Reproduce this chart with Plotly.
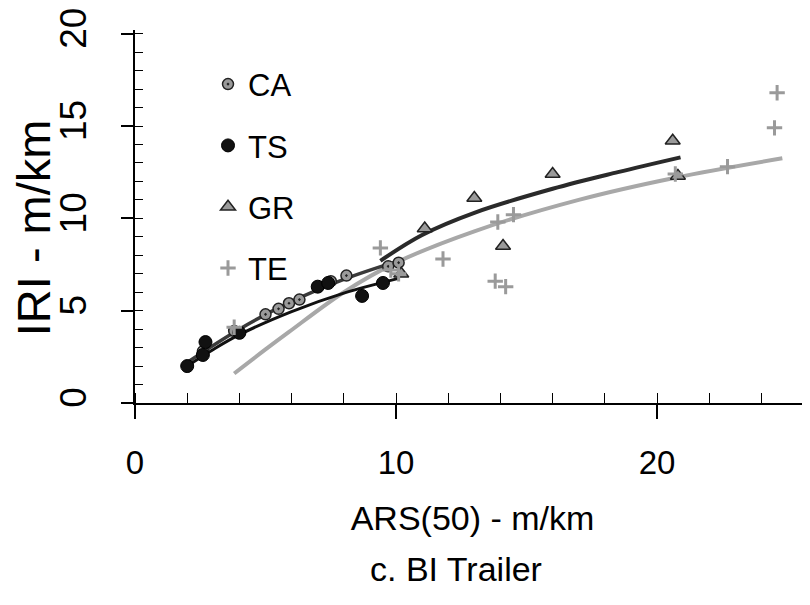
import plotly.graph_objects as go

# ---- data ----
ca_x = [2.6, 3.8, 5.0, 5.5, 5.9, 6.3, 7.0, 7.5, 8.1, 9.7, 10.1]
ca_y = [2.8, 3.9, 4.8, 5.1, 5.4, 5.6, 6.3, 6.6, 6.9, 7.4, 7.6]

ts_x = [2.0, 2.6, 2.7, 4.0, 7.0, 7.4, 8.7, 9.5]
ts_y = [2.0, 2.6, 3.3, 3.8, 6.3, 6.5, 5.8, 6.5]

gr_x = [10.2, 11.1, 13.0, 14.1, 16.0, 20.6, 20.8]
gr_y = [7.0, 9.45, 11.1, 8.5, 12.4, 14.2, 12.3]

te_x = [3.8, 9.4, 9.8, 10.1, 11.8, 13.8, 13.9, 14.2, 14.5, 20.7, 22.7, 24.5, 24.6]
te_y = [4.1, 8.4, 7.2, 7.0, 7.8, 6.6, 9.8, 6.3, 10.2, 12.4, 12.8, 14.9, 16.8]

# fitted curves, points
ca_fit_x = [2.0, 4.0, 6.0, 8.0, 10.1]
ca_fit_y = [2.2, 4.0, 5.5, 6.7, 7.7]
ts_fit_x = [2.0, 3.0, 4.0, 6.0, 8.0, 10.1]
ts_fit_y = [2.0, 2.9, 3.7, 4.95, 5.95, 6.75]
gr_fit_x = [9.4, 11.0, 13.0, 16.0, 18.5, 20.9]
gr_fit_y = [7.7, 9.1, 10.3, 11.6, 12.5, 13.3]
te_fit_x = [3.8, 5.0, 5.9, 8.0, 10.0, 13.0, 17.0, 20.7, 24.8]
te_fit_y = [1.6, 2.9, 3.85, 6.0, 7.6, 9.3, 11.0, 12.2, 13.25]

x_ticks = [0, 10, 20]
y_ticks = [0, 5, 10, 15, 20]

FONT = "Liberation Sans, Arial, sans-serif"

fig = go.Figure()

# fit lines
fig.add_trace(go.Scatter(x=te_fit_x, y=te_fit_y, mode="lines", line=dict(color="#a8a8a8", width=4, shape="spline"),
                         showlegend=False, hoverinfo="skip"))
fig.add_trace(go.Scatter(x=ca_fit_x, y=ca_fit_y, mode="lines", line=dict(color="#3a3a3a", width=3.5, shape="spline"),
                         showlegend=False, hoverinfo="skip"))
fig.add_trace(go.Scatter(x=ts_fit_x, y=ts_fit_y, mode="lines", line=dict(color="#111111", width=3, shape="spline"),
                         showlegend=False, hoverinfo="skip"))
fig.add_trace(go.Scatter(x=gr_fit_x, y=gr_fit_y, mode="lines", line=dict(color="#2a2a2a", width=4, shape="spline"),
                         showlegend=False, hoverinfo="skip"))

# points
fig.add_trace(go.Scatter(x=ca_x, y=ca_y, mode="markers", name="CA", legendgroup="ca",
                         marker=dict(symbol="circle-dot", size=11, color="#9a9a9a",
                                     line=dict(color="#222", width=1.5))))
fig.add_trace(go.Scatter(x=ts_x, y=ts_y, mode="markers", name="TS", legendgroup="ts",
                         marker=dict(symbol="circle", size=13, color="#111111",
                                     line=dict(color="#000", width=1))))
fig.add_trace(go.Scatter(x=gr_x, y=gr_y, mode="markers", name="GR", legendgroup="gr",
                         marker=dict(symbol="triangle-up", size=13, color="#9a9a9a",
                                     line=dict(color="#222", width=1.5))))
fig.add_trace(go.Scatter(x=te_x, y=te_y, mode="markers", name="TE", legendgroup="te",
                         marker=dict(symbol="cross-thin", size=11, color="#a0a0a0",
                                     line=dict(color="#9a9a9a", width=3))))

# the page body adds an 8 px offset, so figure coords = page coords - 8
L, T = 127, 21.5
W, H = 810, 605
BOT = 395
PW, PH = 675, BOT - T

fig.update_layout(
    width=W, height=H,
    margin=dict(l=L, r=W - L - PW, t=T, b=H - BOT, autoexpand=False),
    paper_bgcolor="white", plot_bgcolor="white",
    font=dict(family=FONT, color="black"),
    showlegend=True,
    legend=dict(x=(200 - L) / PW, y=(BOT - 49) / PH, xanchor="left", yanchor="top",
                font=dict(family=FONT, size=31, color="black"),
                bgcolor="rgba(0,0,0,0)", tracegroupgap=18, itemsizing="trace"),
    xaxis=dict(range=[0, 25.86], showgrid=False, zeroline=False, automargin=False,
               showline=True, linecolor="black", linewidth=1.5,
               tickmode="array", tickvals=x_ticks, ticktext=[str(v) for v in x_ticks],
               ticks="outside", ticklen=14, tickwidth=1.5, tickcolor="black",
               ticklabelstandoff=16, ticklabeloverflow="allow",
               minor=dict(dtick=2, ticks="inside", ticklen=10, tickwidth=1.2, tickcolor="black"),
               tickfont=dict(family=FONT, size=33, color="black"),
               title=dict(text="ARS(50) - m/km", standoff=26,
                          font=dict(family=FONT, size=34, color="black"))),
    yaxis=dict(range=[0, 20.2], showgrid=False, zeroline=False, automargin=False,
               showline=True, linecolor="black", linewidth=1.5,
               tickmode="array", tickvals=y_ticks, ticktext=[str(v) for v in y_ticks],
               ticks="outside", ticklen=12, tickwidth=1.5, tickcolor="black",
               tickangle=-90, ticklabelstandoff=20, ticklabeloverflow="allow",
               minor=dict(dtick=1, ticks="inside", ticklen=8, tickwidth=1.2, tickcolor="black"),
               tickfont=dict(family=FONT, size=37, color="black")),
    annotations=[
        dict(text="c. BI Trailer", xref="paper", yref="paper",
             x=(448 - L) / PW, y=(BOT - 561) / PH, xanchor="center", yanchor="middle",
             showarrow=False, font=dict(family=FONT, size=34, color="black")),
        dict(text="IRI - m/km", xref="paper", yref="paper", textangle=-90,
             x=(25 - L) / PW, y=(BOT - 220) / PH, xanchor="center", yanchor="middle",
             showarrow=False, font=dict(family=FONT, size=47, color="black")),
    ],
)

fig.write_html("out.html")
